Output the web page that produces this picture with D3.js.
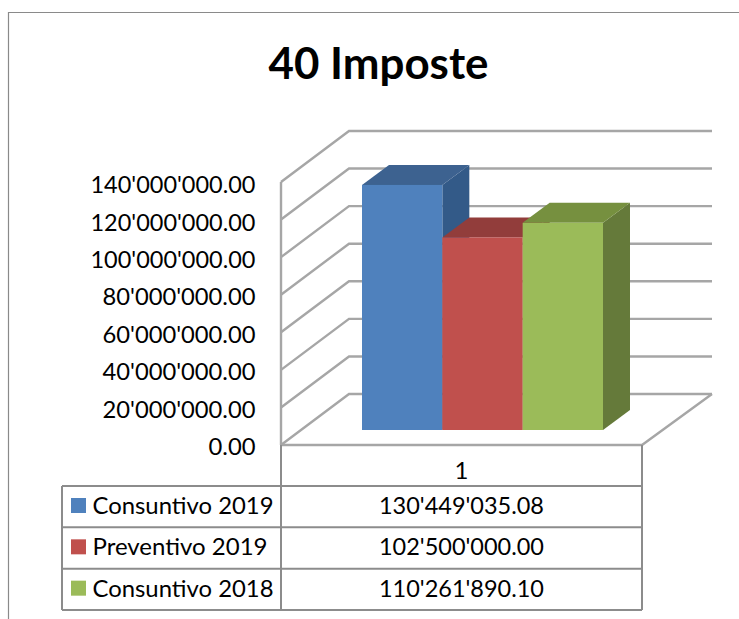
<!DOCTYPE html>
<html>
<head>
    <meta charset="utf-8">
    <style>
        html, body { margin: 0; padding: 0; background: #fff; }
        svg { display: block; }
        text { font-family: Lato, "Open Sans", sans-serif; fill: #000; }
    </style>
    <script src="https://d3js.org/d3.v7.min.js"></script>
</head>
<body>
<script type="application/javascript">
  // data
  var title = "40 Imposte";
  var category = "1";
  var series = ["Consuntivo 2019", "Preventivo 2019", "Consuntivo 2018"];
  var values = [130449035.08, 102500000.00, 110261890.10];
  var ticks = [0, 20000000, 40000000, 60000000, 80000000, 100000000, 120000000, 140000000];
  var front = ["#4f81bd", "#c0504d", "#9bbb59"];
  var top3 = ["#3d6290", "#923d3b", "#76903f"];
  var side = ["#335a88", "#8a3836", "#657a3a"];

  var width = 739, height = 619;
  var fmt = d3.formatLocale({decimal: ".", thousands: "'", grouping: [3], currency: ["", ""]}).format(",.2f");

  var svg = d3.select("body").append("svg")
              .attr("width", width)
              .attr("height", height);

  // outer frame, cut by the edge of the picture
  svg.append("path")
     .attr("d", "M8.5," + height + "V12.5H" + width)
     .attr("fill", "none")
     .attr("stroke", "#8a8a8a")
     .attr("stroke-width", 1.2);

  svg.append("text")
     .attr("x", 378.5)
     .attr("y", 79)
     .attr("text-anchor", "middle")
     .attr("font-weight", "bold")
     .attr("font-size", 43)
     .attr("textLength", 220)
     .attr("lengthAdjust", "spacingAndGlyphs")
     .text(title);

  // 3d box geometry
  var x0 = 281, x1 = 642, y0 = 445;
  var depthX = 68, depthY = -51;
  var barDepthX = 27, barDepthY = -20;
  var y = d3.scaleLinear().domain([0, 140000000]).range([0, -263]);
  var grid = "#a6a6a6";

  var walls = svg.append("g")
                 .attr("fill", "none")
                 .attr("stroke", grid)
                 .attr("stroke-width", 2.4);

  // wall and back lines
  ticks.forEach(function (t) {
    var yy = y0 + y(t);
    walls.append("path")
         .attr("d", "M" + x0 + "," + yy +
                    "L" + (x0 + depthX) + "," + (yy + depthY) +
                    "H" + (x1 + depthX + 2));
  });
  walls.append("path")
       .attr("d", "M" + x0 + "," + y0 + "V" + (y0 + y(140000000)));
  // floor
  walls.append("path")
       .attr("d", "M" + x0 + "," + y0 + "H" + x1 +
                  "L" + (x1 + depthX + 2) + "," + (y0 + depthY));

  // bars
  var band = d3.scaleBand().domain(series).range([362, 603]);
  var barBase = 430;
  var bars = svg.selectAll(".bar")
                .data(series)
                .enter()
                .append("g")
                .attr("class", "bar");

  bars.append("path")
      .attr("fill", function (d, i) { return side[i]; })
      .attr("d", function (d, i) {
        var r = band(d) + band.bandwidth(), t = barBase + y(values[i]);
        return "M" + r + "," + t + "l" + barDepthX + "," + barDepthY +
               "V" + (barBase + barDepthY) + "l" + (-barDepthX) + "," + (-barDepthY) + "Z";
      });
  bars.append("path")
      .attr("fill", function (d, i) { return top3[i]; })
      .attr("d", function (d, i) {
        var l = band(d), t = barBase + y(values[i]);
        return "M" + l + "," + t + "l" + barDepthX + "," + barDepthY +
               "h" + band.bandwidth() + "l" + (-barDepthX) + "," + (-barDepthY) + "Z";
      });
  bars.append("rect")
      .attr("fill", function (d, i) { return front[i]; })
      .attr("x", function (d) { return band(d); })
      .attr("width", band.bandwidth())
      .attr("y", function (d, i) { return barBase + y(values[i]); })
      .attr("height", function (d, i) { return -y(values[i]); });

  // value axis labels
  var axis = d3.axisLeft(d3.scaleLinear().domain([0, 140000000]).range([446.5, 184.5]))
               .tickValues(ticks)
               .tickFormat(fmt)
               .tickSize(0)
               .tickPadding(0);
  var axisG = svg.append("g")
                 .attr("transform", "translate(255.5,0)")
                 .call(axis);
  axisG.select(".domain").remove();
  axisG.selectAll("text")
       .attr("font-size", 24)
       .attr("dy", "0.34em")
       .attr("textLength", function (d) {
         if (d === 0) return 47;
         return d < 100000000 ? 153 : 165;
       })
       .attr("lengthAdjust", "spacingAndGlyphs");

  // data table
  var tableLeft = 62;
  var rowY = d3.scaleBand().domain(series).range([486, 610]);
  var line = "#8c8c8c";
  var table = svg.append("g");

  table.append("path")
       .attr("fill", "none")
       .attr("stroke", line)
       .attr("stroke-width", 2)
       .attr("d", "M" + x0 + "," + y0 + "V610" +
                  "M" + x1 + "," + y0 + "V610" +
                  "M" + tableLeft + ",486V610");
  table.selectAll(".rowline")
       .data([486].concat(series.map(function (d) { return rowY(d) + rowY.bandwidth(); })))
       .enter()
       .append("line")
       .attr("class", "rowline")
       .attr("x1", tableLeft)
       .attr("x2", x1)
       .attr("y1", function (d) { return d; })
       .attr("y2", function (d) { return d; })
       .attr("stroke", line)
       .attr("stroke-width", 2);

  table.append("text")
       .attr("x", 461.5)
       .attr("y", 479)
       .attr("text-anchor", "middle")
       .attr("font-size", 24)
       .text(category);

  var rows = table.selectAll(".row")
                  .data(series)
                  .enter()
                  .append("g")
                  .attr("class", "row")
                  .attr("transform", function (d) { return "translate(0," + rowY(d) + ")"; });
  rows.append("rect")
      .attr("x", 71)
      .attr("y", 12)
      .attr("width", 15)
      .attr("height", 15)
      .attr("fill", function (d, i) { return front[i]; });
  rows.append("text")
      .attr("x", 92.5)
      .attr("y", 28)
      .attr("font-size", 24)
      .attr("textLength", function (d, i) { return i === 1 ? 175 : 181; })
      .attr("lengthAdjust", "spacingAndGlyphs")
      .text(function (d) { return d; });
  rows.append("text")
      .attr("x", 461.5)
      .attr("y", 28)
      .attr("text-anchor", "middle")
      .attr("font-size", 24)
      .attr("textLength", 165)
      .attr("lengthAdjust", "spacingAndGlyphs")
      .text(function (d, i) { return fmt(values[i]); });
</script>
</body>
</html>
